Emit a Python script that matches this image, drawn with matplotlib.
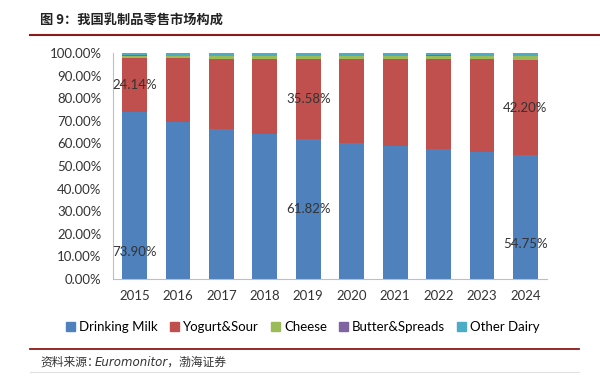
import matplotlib
matplotlib.use("Agg")
import matplotlib.pyplot as plt
import numpy as np
from matplotlib.lines import Line2D

plt.rcParams['font.family'] = ['Lato', 'Noto Sans CJK SC', 'DejaVu Sans']

# ── data ────────────────────────────────────────────────
years = ["2015", "2016", "2017", "2018", "2019", "2020", "2021", "2022", "2023", "2024"]
drinking_milk = [73.90, 69.6, 66.3, 64.1, 61.82, 60.2, 58.9, 57.5, 56.1, 54.75]
yogurt_sour = [24.14, 28.1, 31.3, 33.4, 35.58, 37.2, 38.5, 39.9, 41.1, 42.20]
cheese = [0.90, 1.10, 1.20, 1.30, 1.35, 1.40, 1.45, 1.50, 1.60, 1.80]
butter_spreads = [0.10, 0.10, 0.10, 0.10, 0.10, 0.10, 0.10, 0.10, 0.10, 0.10]
other_dairy = [0.96, 1.10, 1.10, 1.10, 1.15, 1.10, 1.05, 1.00, 1.10, 1.15]

series_names = ["Drinking Milk", "Yogurt&Sour", "Cheese", "Butter&Spreads", "Other Dairy"]
colors = ["#4F81BD", "#C0504D", "#9BBB59", "#8064A2", "#4BACC6"]

# labelled values: (year index, series, y position in % for the label)
milk_labels = [(0, 12.0), (4, 31.0), (9, 15.5)]
yogurt_labels = [0, 4, 9]

# ── figure ──────────────────────────────────────────────
fig = plt.figure(figsize=(6.0, 3.77), dpi=100)
ax = fig.add_axes([0.188, 0.26, 0.724, 0.599])

x = np.arange(len(years))
data = [drinking_milk, yogurt_sour, cheese, butter_spreads, other_dairy]
bottom = np.zeros(len(years))
for name, vals, c in zip(series_names, data, colors):
    ax.bar(x, vals, bottom=bottom, width=0.57, color=c, label=name, linewidth=0)
    bottom += np.array(vals)

for i, ypos in milk_labels:
    ax.text(x[i], ypos, f"{drinking_milk[i]:.2f}%", ha="center", va="center",
            fontsize=9.5, color="#333333")
for i in yogurt_labels:
    ax.text(x[i], drinking_milk[i] + yogurt_sour[i] / 2, f"{yogurt_sour[i]:.2f}%",
            ha="center", va="center", fontsize=9.5, color="#333333")

ax.set_xlim(-0.5, len(years) - 0.5)
ax.set_ylim(0, 100)
ax.set_yticks(np.arange(0, 101, 10))
ax.set_yticklabels([f"{v:.2f}%" for v in np.arange(0, 101, 10)])
ax.set_xticks(x)
ax.set_xticklabels(years)
ax.tick_params(axis="both", length=0, labelsize=9.5, colors="#333333")
ax.tick_params(axis="y", pad=8)
ax.tick_params(axis="x", pad=8)
for s in ["top", "right"]:
    ax.spines[s].set_visible(False)
for s in ["left", "bottom"]:
    ax.spines[s].set_color("#BFBFBF")
    ax.spines[s].set_linewidth(0.8)

handles = [plt.Rectangle((0, 0), 1, 1, color=c) for c in colors]
fig.legend(handles, series_names, loc="center", bbox_to_anchor=(0.505, 0.132),
           ncol=5, frameon=False, fontsize=9.5, handlelength=0.7, handleheight=0.7,
           handletextpad=0.3, columnspacing=0.9)

# title and decorations
fig.text(0.067, 0.945, "图 9：我国乳制品零售市场构成", fontsize=9.5, fontweight="bold",
         family=["Noto Sans CJK SC"], va="center", color="#222222")
fig.add_artist(Line2D([0.05, 1.0], [0.908, 0.908], color="#8B1A1A", linewidth=1.5))
fig.add_artist(Line2D([0.05, 0.965], [0.074, 0.074], color="#8B1A1A", linewidth=1.3))
fig.add_artist(Line2D([0.05, 0.965], [0.013, 0.013], color="#E0E0E0", linewidth=0.8))
fig.text(0.067, 0.04, "资料来源：", fontsize=8.5, family=["Noto Sans CJK SC"],
         va="center", color="#333333", style="italic")
fig.text(0.158, 0.04, "Euromonitor，渤海证券", fontsize=8.5,
         family=["DejaVu Sans", "Noto Sans CJK SC"], va="center", color="#333333",
         style="italic")

fig.savefig("out.png", dpi=100, facecolor="white")
